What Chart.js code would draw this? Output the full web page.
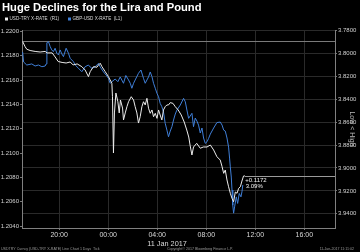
<!DOCTYPE html>
<html><head><meta charset="utf-8">
<script src="https://cdn.jsdelivr.net/npm/chart.js@4.4.1/dist/chart.umd.min.js"></script>
<style>html,body{margin:0;padding:0;background:#000;overflow:hidden}#wrap{width:360px;height:252px;position:relative}</style>
</head><body><div id="wrap"><canvas id="c" width="360" height="252"></canvas></div>
<script>
// Hours relative to 00:00, 11 Jan 2017
const tryTimes = [-6.98,-6.78,-6.64,-6.37,-5.96,-5.55,-5.14,-4.98,-4.57,-4.33,-4.08,-3.76,-3.43,-3.10,-2.86,-2.53,-2.15,-1.88,-1.61,-1.47,-1.20,-0.92,-0.79,-0.65,-0.51,-0.24,0.02,0.30,0.35,0.43,0.51,0.63,0.79,0.90,1.00,1.17,1.25,1.39,1.53,1.66,1.88,2.07,2.20,2.34,2.47,2.61,2.75,2.88,3.02,3.16,3.29,3.43,3.57,3.70,3.84,3.98,4.11,4.24,4.38,4.51,4.65,4.79,4.92,5.06,5.28,5.47,5.71,5.96,6.20,6.41,6.57,6.69,6.83,6.96,7.22,7.51,7.76,8.06,8.33,8.60,8.87,9.14,9.29,9.42,9.55,9.69,9.82,9.96,10.10,10.23,10.37,10.51,10.64,10.78,10.91,11.04,11.14];
const tryValues = [3.7896,3.7941,3.7964,3.7975,3.7983,3.7988,3.7983,3.7996,3.7996,3.8031,3.8071,3.8079,3.8084,3.8075,3.8101,3.8092,3.8116,3.8145,3.8203,3.8160,3.8116,3.8121,3.8101,3.8086,3.8116,3.8160,3.8203,3.8261,3.8378,3.8869,3.8520,3.8346,3.8422,3.8520,3.8407,3.8477,3.8581,3.8520,3.8465,3.8422,3.8378,3.8407,3.8465,3.8520,3.8608,3.8553,3.8465,3.8422,3.8450,3.8392,3.8479,3.8523,3.8494,3.8553,3.8523,3.8567,3.8494,3.8538,3.8581,3.8494,3.8465,3.8450,3.8450,3.8430,3.8436,3.8465,3.8494,3.8538,3.8599,3.8669,3.8730,3.8808,3.8887,3.8817,3.8785,3.8828,3.8817,3.8817,3.8800,3.8843,3.8902,3.8931,3.8989,3.9047,3.9018,3.9105,3.9164,3.9221,3.9265,3.9295,3.9210,3.9221,3.9178,3.9164,3.9114,3.9070,3.9068];
const gbpTimes = [-6.98,-6.90,-6.64,-6.23,-5.96,-5.69,-5.41,-5.14,-5.06,-5.00,-4.87,-4.73,-4.60,-4.47,-4.33,-4.19,-4.06,-3.92,-3.78,-3.65,-3.43,-3.24,-3.10,-2.83,-2.69,-2.42,-2.15,-1.88,-1.61,-1.47,-1.33,-1.06,-0.79,-0.65,-0.38,-0.11,0.02,0.16,0.30,0.57,0.79,0.98,1.25,1.44,1.66,1.80,1.93,2.07,2.20,2.47,2.67,2.88,3.02,3.16,3.29,3.43,3.57,3.70,3.84,3.98,4.11,4.24,4.38,4.51,4.65,4.79,4.92,5.06,5.20,5.33,5.47,5.61,5.88,6.15,6.29,6.42,6.56,6.69,6.83,6.96,7.10,7.24,7.37,7.51,7.65,7.78,7.92,8.06,8.19,8.33,8.60,8.87,9.14,9.29,9.42,9.55,9.69,9.82,9.90,9.96,10.04,10.10,10.16,10.23,10.31,10.45,10.56,10.69,10.83,10.91,10.98];
const gbpValues = [1.21831,1.21749,1.21724,1.21733,1.21716,1.21724,1.21710,1.21716,1.21733,1.21908,1.21916,1.21875,1.21848,1.21834,1.21862,1.21821,1.21807,1.21848,1.21815,1.21793,1.21862,1.21821,1.21779,1.21751,1.21724,1.21697,1.21669,1.21710,1.21724,1.21708,1.21697,1.21710,1.21738,1.21708,1.21667,1.21634,1.21615,1.21574,1.21587,1.21609,1.21587,1.21626,1.21574,1.21638,1.21601,1.21574,1.21533,1.21574,1.21601,1.21656,1.21683,1.21615,1.21574,1.21601,1.21626,1.21667,1.21628,1.21574,1.21533,1.21491,1.21463,1.21409,1.21381,1.21338,1.21245,1.21189,1.21134,1.21181,1.21217,1.21272,1.21321,1.21354,1.21395,1.21450,1.21422,1.21354,1.21286,1.21305,1.21327,1.21217,1.21288,1.21263,1.21230,1.21165,1.21206,1.21124,1.21080,1.21093,1.21121,1.21156,1.21206,1.21251,1.21255,1.21230,1.21189,1.21181,1.21124,1.21049,1.20959,1.20887,1.20803,1.20696,1.20572,1.20506,1.20558,1.20640,1.20586,1.20668,1.20640,1.20682,1.20737];
const xTickHours = [-4,0,4,8,12,16];
const xTickLabels = ['20:00','00:00','04:00','08:00','12:00','16:00'];
const dateLabel = '11 Jan 2017';
const dateLabelHour = 4.8;
const tryPrevClose = 3.7896;
const tryLast = 3.9068;
const tryChange = '+0.1172';
const tryChangePct = '3.09%';
const titleText = 'Huge Declines for the Lira and Pound';
const legendItems = [['USD-TRY X-RATE  (R1)', '#f0f0f0'], ['GBP-USD X-RATE  (L1)', '#3f7fd8']];
const rightAxisTitle = 'Low < High';
const footerLeft = 'USDTRY Curncy (USD-TRY X-RATE) Line Chart 1 Days  Tick';
const footerCenter = 'Copyright\u00A9 2017 Bloomberg Finance L.P.';
const footerRight = '11-Jan-2017 11:11:02';

const FONT = "'Liberation Sans', Arial, sans-serif";
Chart.defaults.font.family = FONT;

const decor = {
  id: 'decor',
  beforeDatasetsDraw(chart) {
    const ctx = chart.ctx, a = chart.chartArea, y1 = chart.scales.y1, x = chart.scales.x;
    ctx.save();
    ctx.lineWidth = 1;
    ctx.strokeStyle = '#7a7a7a';
    let py = Math.round(y1.getPixelForValue(tryPrevClose)) + 0.5;
    ctx.beginPath(); ctx.moveTo(a.left, py); ctx.lineTo(a.right, py); ctx.stroke();
    ctx.strokeStyle = '#9a9a9a';
    py = Math.round(y1.getPixelForValue(tryLast)) + 0.5;
    const px = x.getPixelForValue(tryTimes[tryTimes.length - 1]);
    ctx.beginPath(); ctx.moveTo(px, py); ctx.lineTo(a.right, py); ctx.stroke();
    ctx.restore();
  },
  afterDraw(chart) {
    const ctx = chart.ctx, a = chart.chartArea, y1 = chart.scales.y1, x = chart.scales.x;
    ctx.save();
    // title
    ctx.fillStyle = '#ffffff';
    ctx.font = 'bold 11.2px ' + FONT;
    ctx.textBaseline = 'alphabetic';
    ctx.textAlign = 'left';
    ctx.fillText(titleText, 2, 10.5);
    // legend
    ctx.font = '4.6px ' + FONT;
    ctx.textBaseline = 'middle';
    let lx = 5;
    legendItems.forEach(([t, c]) => {
      ctx.fillStyle = c;
      ctx.fillRect(lx, 17.5, 3, 3);
      ctx.fillStyle = '#d8d8d8';
      ctx.fillText(t, lx + 4.5, 19.2);
      lx += 63;
    });
    // last price annotation
    const px = x.getPixelForValue(tryTimes[tryTimes.length - 1]);
    const py = y1.getPixelForValue(tryLast);
    ctx.fillStyle = '#f0f0f0';
    ctx.font = '6px ' + FONT;
    ctx.fillText(tryChange, px + 0.5, py + 4.5);
    ctx.fillText(tryChangePct, px + 1, py + 10.5);
    // date label under ticks
    ctx.fillStyle = '#d8d8d8';
    ctx.font = '7.3px ' + FONT;
    ctx.textAlign = 'center';
    ctx.fillText(dateLabel, x.getPixelForValue(dateLabelHour), 243.5);
    // right axis title
    ctx.save();
    ctx.translate(352, (a.top + a.bottom) / 2);
    ctx.rotate(Math.PI / 2);
    ctx.fillStyle = '#b8b8b8';
    ctx.font = '7px ' + FONT;
    ctx.fillText(rightAxisTitle, 0, 0);
    ctx.restore();
    // footer
    ctx.fillStyle = '#9a9a9a';
    ctx.font = '3.6px ' + FONT;
    ctx.textAlign = 'left';
    ctx.fillText(footerLeft, 1, 249);
    ctx.textAlign = 'center';
    ctx.fillText(footerCenter, 200, 249);
    ctx.textAlign = 'right';
    ctx.fillText(footerRight, 354, 249);
    ctx.restore();
  }
};

new Chart(document.getElementById('c'), {
  type: 'line',
  data: {
    datasets: [
      { label: 'USD-TRY X-RATE (R1)', data: tryTimes.map((t, i) => ({x: t, y: tryValues[i]})), yAxisID: 'y1', borderColor: '#ececec', borderWidth: 1, pointRadius: 0, tension: 0 },
      { label: 'GBP-USD X-RATE (L1)', data: gbpTimes.map((t, i) => ({x: t, y: gbpValues[i]})), yAxisID: 'y', borderColor: '#3f7fd8', borderWidth: 1, pointRadius: 0, tension: 0 }
    ]
  },
  options: {
    responsive: false, animation: false, devicePixelRatio: 1,
    layout: { padding: { top: 30, left: 0, right: 0, bottom: 0 } },
    plugins: { legend: { display: false }, tooltip: { enabled: false }, title: { display: false } },
    scales: {
      x: {
        type: 'linear', position: 'bottom', min: -7.03, max: 18.5,
        afterBuildTicks: s => { s.ticks = xTickHours.map(v => ({ value: v })); },
        afterFit: s => { s.height = 24; },
        ticks: { callback: v => xTickLabels[xTickHours.indexOf(v)] ?? '', color: '#d8d8d8', font: { size: 7 }, padding: 1, maxRotation: 0, autoSkip: false },
        grid: { color: '#2a2a2a', tickLength: 2, tickColor: '#777' },
        border: { color: '#808080' }
      },
      y: {
        type: 'linear', position: 'left', min: 1.20384, max: 1.22012,
        afterFit: s => { s.width = 22; },
        ticks: { stepSize: 0.002, includeBounds: false, callback: v => Number(v).toFixed(4), color: '#d0d0d0', font: { size: 6 }, padding: 1 },
        grid: { drawOnChartArea: false, tickLength: 2, tickColor: '#777' },
        border: { color: '#808080' }
      },
      y1: {
        type: 'linear', position: 'right', reverse: true, min: 3.7796, max: 3.9524,
        afterFit: s => { s.width = 25; },
        ticks: { stepSize: 0.02, includeBounds: false, callback: v => Number(v).toFixed(4), color: '#d0d0d0', font: { size: 6 }, padding: 1 },
        grid: { color: '#2a2a2a', tickLength: 2, tickColor: '#777' },
        border: { color: '#808080' }
      }
    }
  },
  plugins: [decor]
});
</script></body></html>
